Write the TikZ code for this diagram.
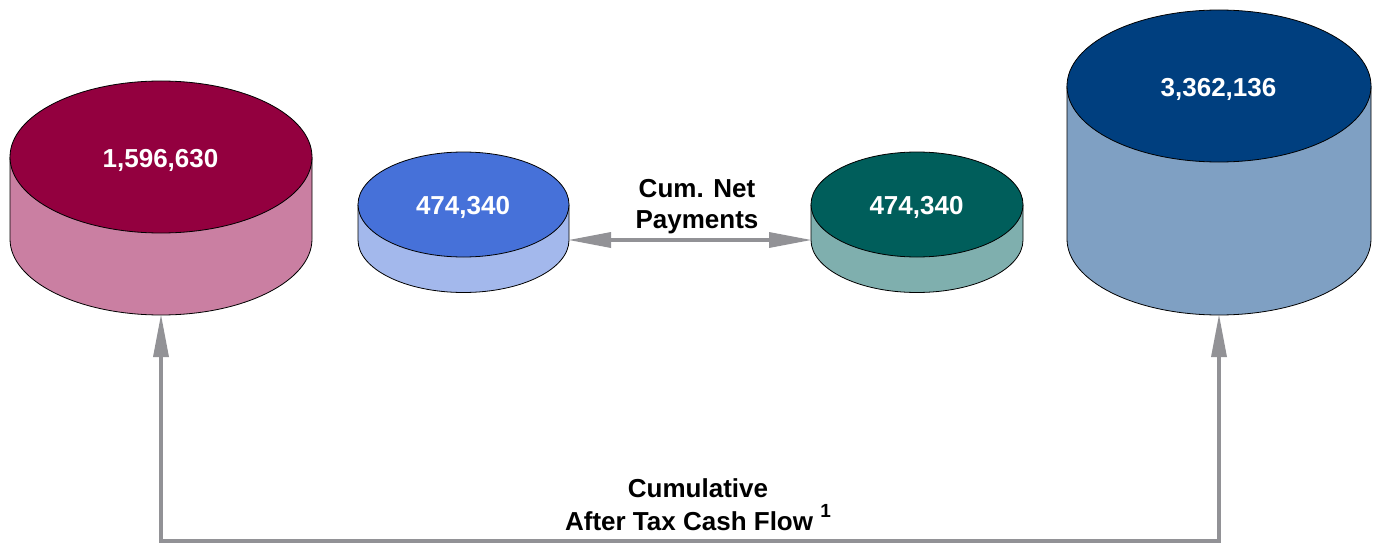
\documentclass[tikz,border=0pt]{standalone}
\usepackage{fontspec}
\setmainfont{Liberation Sans}
\usetikzlibrary{arrows.meta}
\definecolor{crimTop}{HTML}{93003F}
\definecolor{crimSide}{HTML}{CA7FA2}
\definecolor{blueTop}{HTML}{4671D9}
\definecolor{blueSide}{HTML}{A3B8EC}
\definecolor{tealTop}{HTML}{005E5B}
\definecolor{tealSide}{HTML}{7FAFAE}
\definecolor{navyTop}{HTML}{003F7F}
\definecolor{navySide}{HTML}{7FA0C3}
\definecolor{arrowgray}{HTML}{929296}
% cx, top y, bottom y, rx, ry, top colour, side colour
\newcommand\drawcyl[7]{%
  \fill[#7] (#1-#4,#2) -- (#1-#4,#3)
    arc[start angle=180,end angle=0,x radius=#4,y radius=#5]
    -- (#1+#4,#2) -- cycle;
  \draw[cylline] (#1-#4,#2) -- (#1-#4,#3)
    arc[start angle=180,end angle=0,x radius=#4,y radius=#5]
    -- (#1+#4,#2);
  \draw[cylline,fill=#6] (#1,#2) ellipse[x radius=#4,y radius=#5];
}
\tikzset{
  cylline/.style={draw=black,line width=0.8pt},
  numlbl/.style={text=white,font=\fontsize{26}{31}\selectfont\bfseries,inner sep=0pt,anchor=base},
  caplbl/.style={text=black,font=\fontsize{26}{31}\selectfont\bfseries,inner sep=0pt,align=center,anchor=north},
  flowtip/.tip={Triangle[length=42pt,width=16pt,line width=0pt]},
  flow/.style={draw=arrowgray,line width=4pt,line join=miter,flowtip-flowtip},
}
\begin{document}
\begin{tikzpicture}[x=1pt,y=-1pt]
\useasboundingbox (0,0) rectangle (1377,543);
\drawcyl{161}{157}{239}{151}{76}{crimTop}{crimSide}
\drawcyl{1219}{86}{239}{152}{76}{navyTop}{navySide}
\drawcyl{463.5}{204.5}{240}{105.5}{52.5}{blueTop}{blueSide}
\drawcyl{917}{204.5}{240}{106}{52.5}{tealTop}{tealSide}

\node[numlbl] (vL) at (160.5,167) {1,596,630};
\node[numlbl] (vR) at (1218.5,96) {3,362,136};
\node[numlbl] (vML) at (463,214) {474,340};
\node[numlbl] (vMR) at (916.5,214) {474,340};

\coordinate (Lb) at (161,315);
\coordinate (Rb) at (1219,315);
\coordinate (MLr) at (569,240);
\coordinate (MRl) at (811,240);
\coordinate (floor) at (0,541);

\draw[flow] (MLr) -- (MRl);
\draw[flow] (Lb) -- (Lb |- floor) -- (Rb |- floor) -- (Rb);

\node[caplbl] (cumnet) at (697,179) {Cum. Net\\Payments};
\node[caplbl,font=\fontsize{26}{33}\selectfont\bfseries] (cumatcf) at (698,478)
  {Cumulative\\After Tax Cash Flow \raisebox{13pt}{\fontsize{19}{19}\selectfont 1}};
\end{tikzpicture}
\end{document}
